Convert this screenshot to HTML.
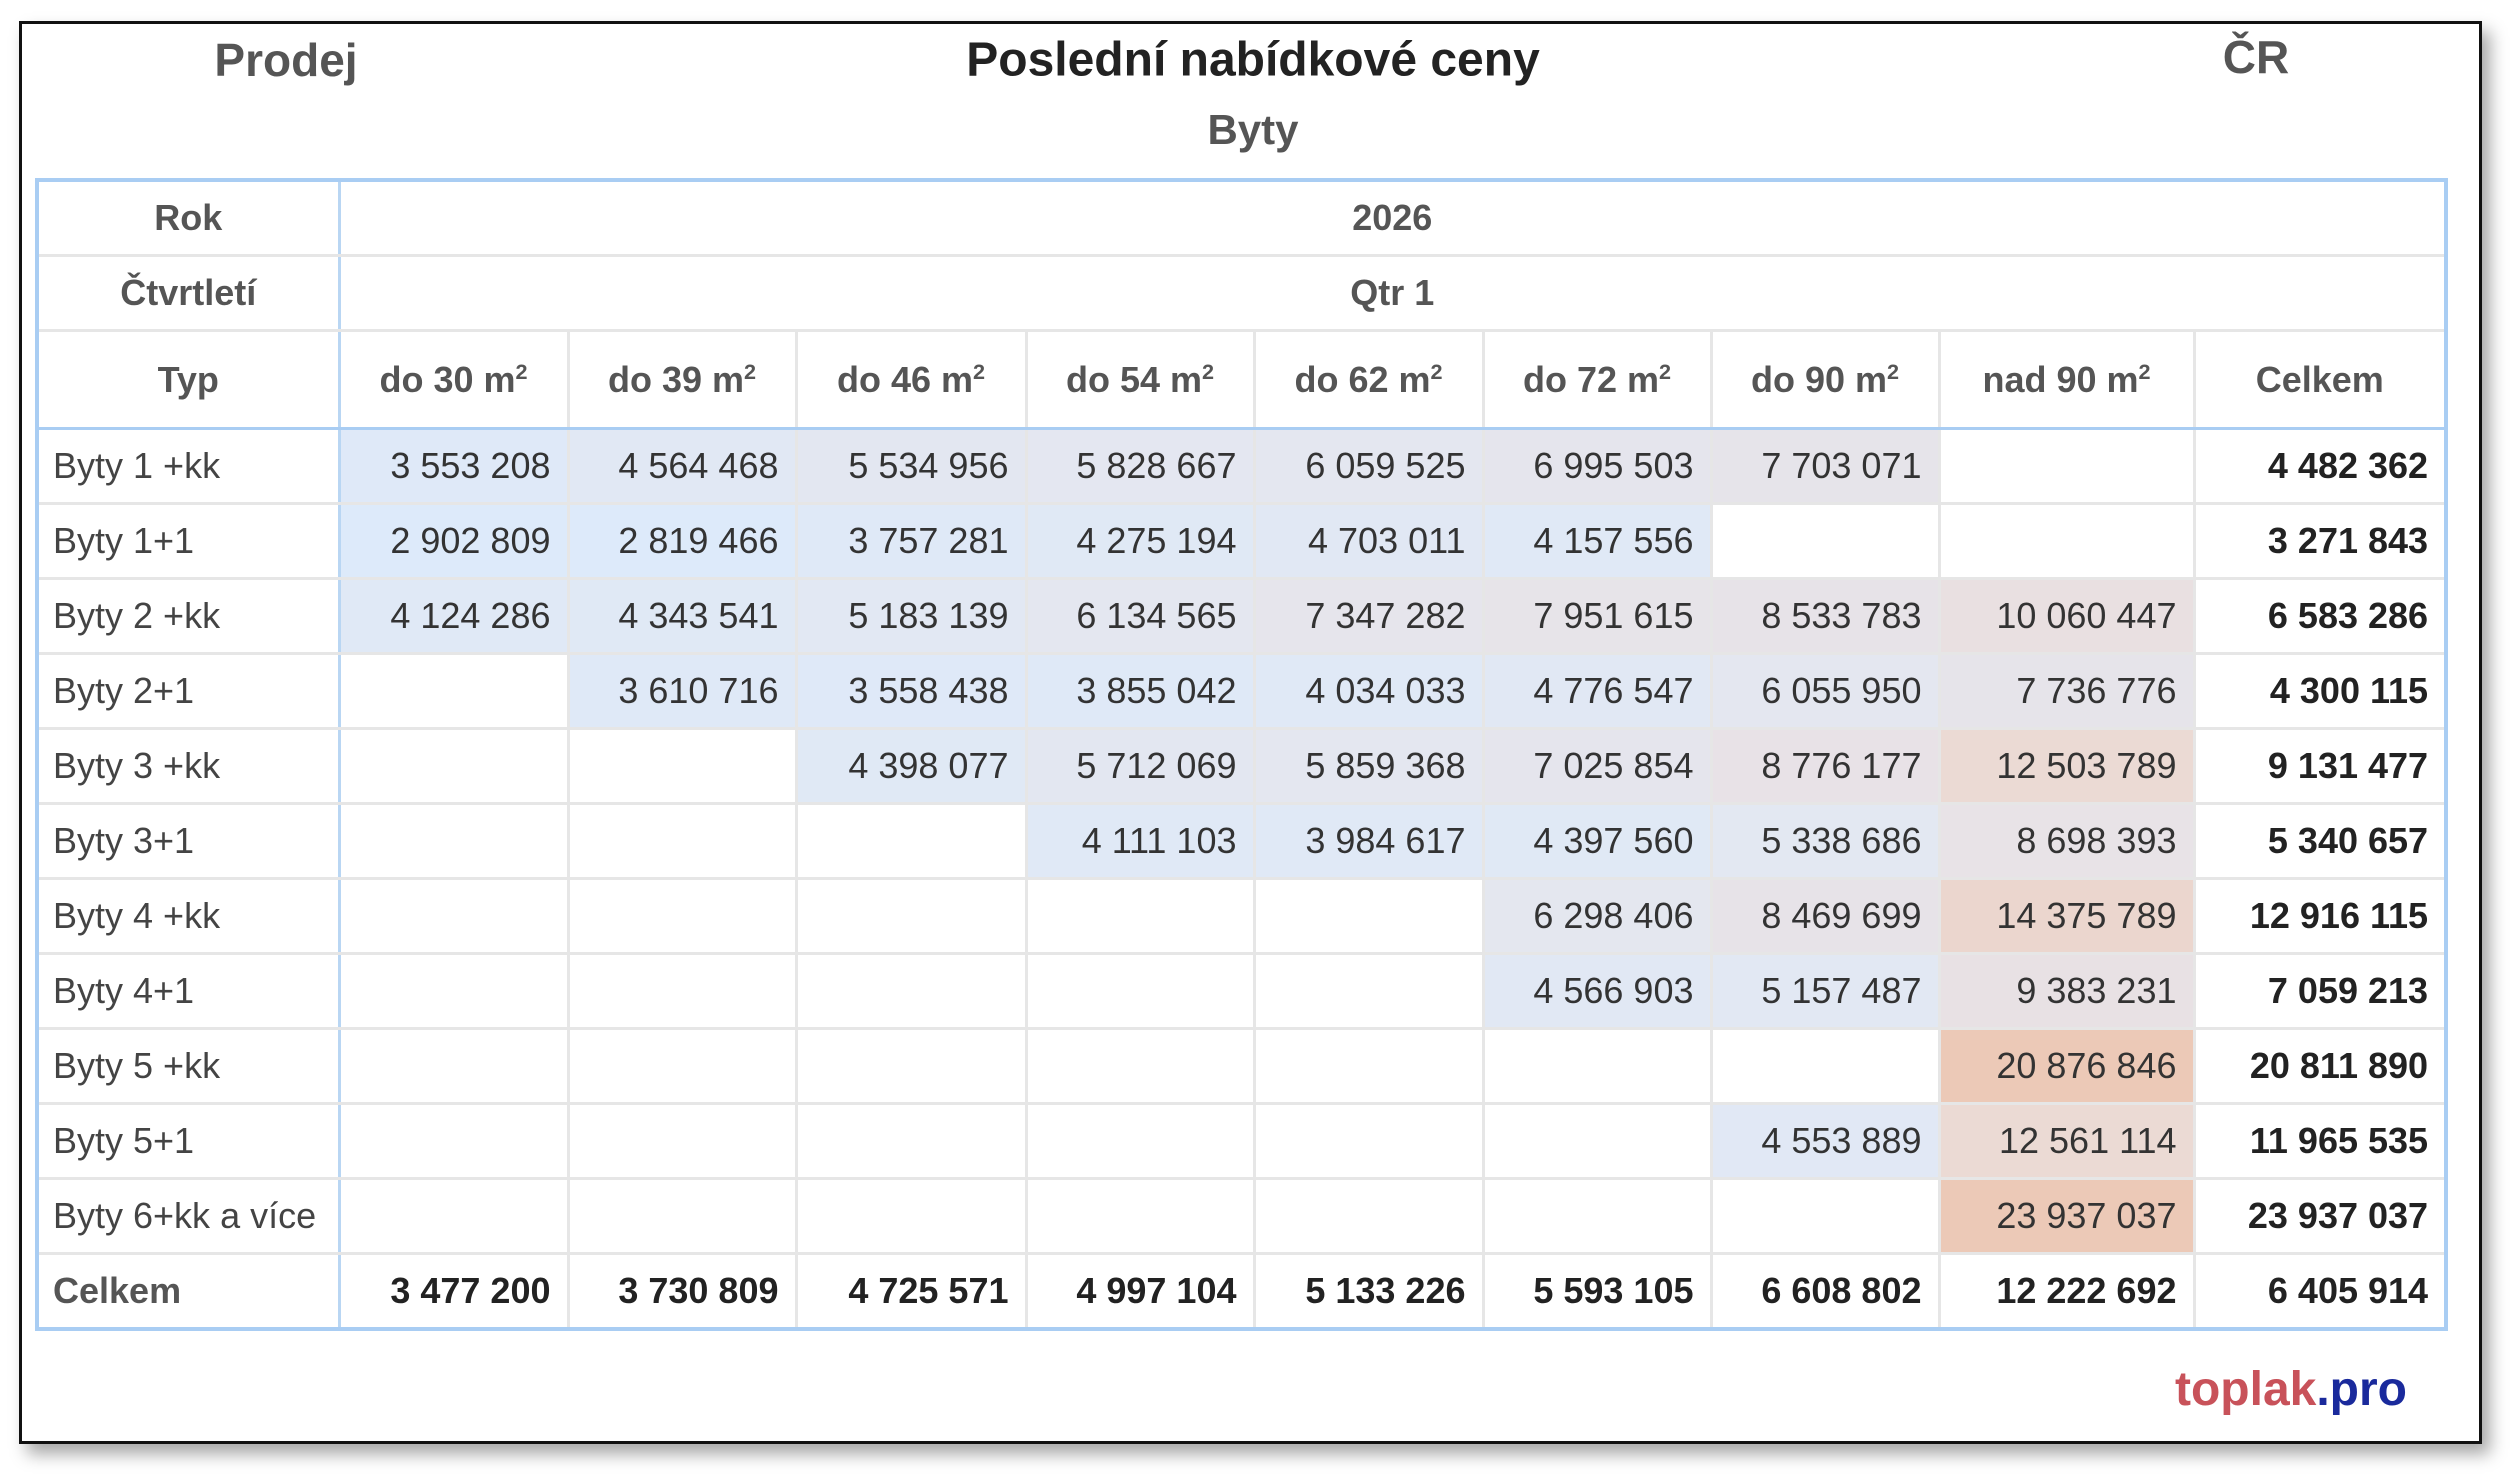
<!DOCTYPE html>
<html><head><meta charset="utf-8"><style>
html,body{margin:0;padding:0;background:#fff;}
body{width:2516px;height:1478px;position:relative;overflow:hidden;font-family:"Liberation Sans",sans-serif;}
#frame{position:absolute;left:19px;top:21px;width:2457px;height:1417px;border:3px solid #111;box-shadow:8px 10px 16px rgba(0,0,0,.35);background:#fff;}
.t{position:absolute;font-weight:bold;transform:translate(-50%,-50%);white-space:nowrap;}
table{position:absolute;left:35px;top:178px;width:2409px;border-collapse:collapse;table-layout:fixed;border:4px solid #a9cdf3;}
td{border:3px solid #e6e6e6;font-size:36px;color:#333;text-align:right;padding:0 16px 0 0;height:72px;white-space:nowrap;overflow:hidden;}
tr.h td{font-weight:bold;color:#555;text-align:center;padding:0;height:72px;}
td.l{text-align:left;padding-left:14px;color:#444;border-right:3px solid #b9d6f3;}
tr.h td.l{text-align:center;padding:0;color:#555;}
td.b{font-weight:bold;color:#222;}
tr.h.typ td{border-bottom:3px solid #a9cdf3;height:95px;}
sup{font-size:60%;}
</style></head><body>
<div id="frame"></div>
<div class="t" style="left:286px;top:60px;font-size:46px;color:#555;">Prodej</div>
<div class="t" style="left:1253px;top:60px;font-size:48px;color:#222;">Poslední nabídkové ceny</div>
<div class="t" style="left:2256px;top:57px;font-size:46px;color:#555;">ČR</div>
<div class="t" style="left:1253px;top:130px;font-size:42px;color:#555;">Byty</div>
<table>
<colgroup><col style="width:302px"><col style="width:229px"><col style="width:228px"><col style="width:230px"><col style="width:228px"><col style="width:229px"><col style="width:228px"><col style="width:228px"><col style="width:255px"><col style="width:252px"></colgroup>
<tr class="h"><td class="l">Rok</td><td colspan="9">2026</td></tr>
<tr class="h"><td class="l">Čtvrtletí</td><td colspan="9">Qtr 1</td></tr>
<tr class="h typ"><td class="l">Typ</td><td>do 30 m<sup>2</sup></td><td>do 39 m<sup>2</sup></td><td>do 46 m<sup>2</sup></td><td>do 54 m<sup>2</sup></td><td>do 62 m<sup>2</sup></td><td>do 72 m<sup>2</sup></td><td>do 90 m<sup>2</sup></td><td>nad 90 m<sup>2</sup></td><td>Celkem</td></tr>
<tr><td class="l">Byty 1 +kk</td><td>3 553 208</td><td>4 564 468</td><td>5 534 956</td><td>5 828 667</td><td>6 059 525</td><td>6 995 503</td><td>7 703 071</td><td></td><td class="b">4 482 362</td></tr>
<tr><td class="l">Byty 1+1</td><td>2 902 809</td><td>2 819 466</td><td>3 757 281</td><td>4 275 194</td><td>4 703 011</td><td>4 157 556</td><td></td><td></td><td class="b">3 271 843</td></tr>
<tr><td class="l">Byty 2 +kk</td><td>4 124 286</td><td>4 343 541</td><td>5 183 139</td><td>6 134 565</td><td>7 347 282</td><td>7 951 615</td><td>8 533 783</td><td>10 060 447</td><td class="b">6 583 286</td></tr>
<tr><td class="l">Byty 2+1</td><td></td><td>3 610 716</td><td>3 558 438</td><td>3 855 042</td><td>4 034 033</td><td>4 776 547</td><td>6 055 950</td><td>7 736 776</td><td class="b">4 300 115</td></tr>
<tr><td class="l">Byty 3 +kk</td><td></td><td></td><td>4 398 077</td><td>5 712 069</td><td>5 859 368</td><td>7 025 854</td><td>8 776 177</td><td>12 503 789</td><td class="b">9 131 477</td></tr>
<tr><td class="l">Byty 3+1</td><td></td><td></td><td></td><td>4 111 103</td><td>3 984 617</td><td>4 397 560</td><td>5 338 686</td><td>8 698 393</td><td class="b">5 340 657</td></tr>
<tr><td class="l">Byty 4 +kk</td><td></td><td></td><td></td><td></td><td></td><td>6 298 406</td><td>8 469 699</td><td>14 375 789</td><td class="b">12 916 115</td></tr>
<tr><td class="l">Byty 4+1</td><td></td><td></td><td></td><td></td><td></td><td>4 566 903</td><td>5 157 487</td><td>9 383 231</td><td class="b">7 059 213</td></tr>
<tr><td class="l">Byty 5 +kk</td><td></td><td></td><td></td><td></td><td></td><td></td><td></td><td>20 876 846</td><td class="b">20 811 890</td></tr>
<tr><td class="l">Byty 5+1</td><td></td><td></td><td></td><td></td><td></td><td></td><td>4 553 889</td><td>12 561 114</td><td class="b">11 965 535</td></tr>
<tr><td class="l">Byty 6+kk a více</td><td></td><td></td><td></td><td></td><td></td><td></td><td></td><td>23 937 037</td><td class="b">23 937 037</td></tr>
<tr><td class="l b" style="color:#555">Celkem</td><td class="b">3 477 200</td><td class="b">3 730 809</td><td class="b">4 725 571</td><td class="b">4 997 104</td><td class="b">5 133 226</td><td class="b">5 593 105</td><td class="b">6 608 802</td><td class="b">12 222 692</td><td class="b">6 405 914</td></tr>
</table>
<div style="position:absolute;right:109px;top:1362px;font-size:48px;font-weight:bold;"><span style="color:#c8525a">toplak</span><span style="color:#1a2a9c">.pro</span></div>
<script>
var stops=[[2.8,[221,234,250]],[6,[228,231,240]],[9,[232,226,230]],[12.5,[235,218,212]],[21,[236,201,183]]];
function col(v){if(v<=stops[0][0])return stops[0][1];for(var i=1;i<stops.length;i++){if(v<=stops[i][0]){var a=stops[i-1],b=stops[i],f=(v-a[0])/(b[0]-a[0]);return a[1].map(function(c,k){return Math.round(c+(b[1][k]-c)*f);});}}return stops[stops.length-1][1];}
var rows=document.querySelectorAll('tr');
for(var r=3;r<rows.length-1;r++){var cs=rows[r].children;for(var c=1;c<cs.length-1;c++){var t=cs[c].textContent.replace(/ /g,'');if(t){var v=parseInt(t)/1e6;var k=col(v);cs[c].style.background='rgb('+k.join(',')+')';}}}
</script>
</body></html>
